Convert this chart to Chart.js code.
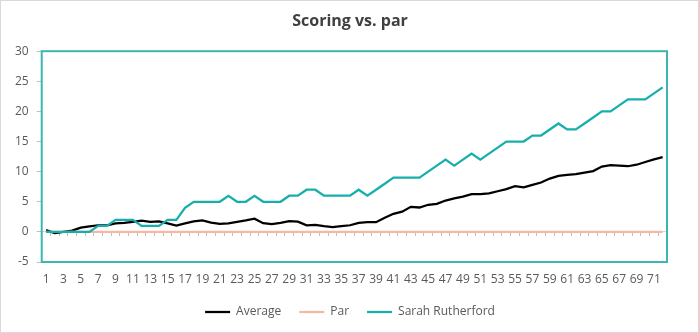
<!DOCTYPE html>
<html>
<head>
<meta charset="utf-8">
<script src="https://cdn.jsdelivr.net/npm/chart.js@4"></script>
<style>
  body { margin: 0; background: #fff; }
  canvas { display: block; }
</style>
</head>
<body>
<canvas id="scoreChart" width="699" height="333"></canvas>
<script>
// holes 1..72
const holes = [
  1, 2, 3, 4, 5, 6, 7, 8, 9, 10, 11, 12, 13, 14, 15, 16, 17, 18,
  19, 20, 21, 22, 23, 24, 25, 26, 27, 28, 29, 30, 31, 32, 33, 34, 35, 36,
  37, 38, 39, 40, 41, 42, 43, 44, 45, 46, 47, 48, 49, 50, 51, 52, 53, 54,
  55, 56, 57, 58, 59, 60, 61, 62, 63, 64, 65, 66, 67, 68, 69, 70, 71, 72
];

const average = [
  0.3, -0.2, 0.0, 0.2, 0.7, 0.9, 1.1, 1.1, 1.4, 1.5, 1.65, 1.85, 1.65, 1.75, 1.4, 1.05, 1.4, 1.75,
  1.9, 1.55, 1.35, 1.4, 1.65, 1.9, 2.2, 1.45, 1.3, 1.5, 1.8, 1.7, 1.1, 1.15, 0.95, 0.8, 0.95, 1.1,
  1.5, 1.6, 1.6, 2.35, 3.0, 3.35, 4.15, 4.05, 4.5, 4.65, 5.2, 5.55, 5.85, 6.25, 6.25, 6.4, 6.75, 7.1,
  7.6, 7.4, 7.8, 8.2, 8.85, 9.3, 9.45, 9.6, 9.85, 10.1, 10.85, 11.1, 11.0, 10.9, 11.15, 11.6, 12.05, 12.4
];

const par = [
  0, 0, 0, 0, 0, 0, 0, 0, 0, 0, 0, 0, 0, 0, 0, 0, 0, 0,
  0, 0, 0, 0, 0, 0, 0, 0, 0, 0, 0, 0, 0, 0, 0, 0, 0, 0,
  0, 0, 0, 0, 0, 0, 0, 0, 0, 0, 0, 0, 0, 0, 0, 0, 0, 0,
  0, 0, 0, 0, 0, 0, 0, 0, 0, 0, 0, 0, 0, 0, 0, 0, 0, 0
];

const sarah = [
  0, 0, 0, 0, 0, 0, 1, 1, 2, 2, 2, 1, 1, 1, 2, 2, 4, 5,
  5, 5, 5, 6, 5, 5, 6, 5, 5, 5, 6, 6, 7, 7, 6, 6, 6, 6,
  7, 6, 7, 8, 9, 9, 9, 9, 10, 11, 12, 11, 12, 13, 12, 13, 14, 15,
  15, 15, 16, 16, 17, 18, 17, 17, 18, 19, 20, 20, 21, 22, 22, 22, 23, 24
];

const yMin = -5;
const yMax = 30;
const yStep = 5;

const textColor = '#595959';
const tealColor = '#17AFAB';
const fontFamily = '"Open Sans", "Noto Sans", sans-serif';

// white background, thin outer frame and teal box around the plot area
const frame = {
  id: 'frame',
  beforeDraw(chart) {
    const c = chart.ctx;
    c.save();
    c.fillStyle = '#fff';
    c.fillRect(0, 0, chart.width, chart.height);
    c.strokeStyle = '#D9D9D9';
    c.lineWidth = 1;
    c.strokeRect(0.5, 0.5, chart.width - 1, chart.height - 1);
    c.restore();
  },
  afterDraw(chart) {
    const a = chart.chartArea;
    const c = chart.ctx;
    c.save();
    c.strokeStyle = '#3DB6B2';
    c.lineWidth = 2;
    c.strokeRect(a.left, a.top, a.right - a.left, a.bottom - a.top);
    c.restore();
  }
};

new Chart(document.getElementById('scoreChart'), {
  type: 'line',
  data: {
    labels: holes,
    datasets: [
      {
        label: 'Average',
        data: average,
        borderColor: '#000000',
        backgroundColor: '#000000',
        borderWidth: 2.25,
        pointRadius: 0,
        order: 3
      },
      {
        label: 'Par',
        data: par,
        borderColor: '#F7B8A3',
        backgroundColor: '#F7B8A3',
        borderWidth: 2.25,
        pointRadius: 0,
        order: 2
      },
      {
        label: 'Sarah Rutherford',
        data: sarah,
        borderColor: tealColor,
        backgroundColor: tealColor,
        borderWidth: 2.25,
        pointRadius: 0,
        order: 1
      }
    ]
  },
  options: {
    responsive: false,
    animation: false,
    devicePixelRatio: 1,
    layout: { padding: { left: 7, right: 6, top: 0, bottom: 5 } },
    plugins: {
      title: {
        display: true,
        text: 'Scoring vs. par',
        color: '#404040',
        font: { family: fontFamily, size: 16, weight: 'bold' },
        padding: { top: 12, bottom: 20 }
      },
      legend: {
        position: 'bottom',
        maxHeight: 40,
        labels: {
          usePointStyle: true,
          pointStyle: 'line',
          pointStyleWidth: 25,
          color: textColor,
          font: { family: fontFamily, size: 12 },
          padding: 18,
          sort: (a, b) => a.datasetIndex - b.datasetIndex
        }
      },
      tooltip: { enabled: false }
    },
    scales: {
      // axis line with tick marks sitting on zero
      x: {
        type: 'category',
        position: { y: 0 },
        offset: true,
        grid: {
          offset: true,
          drawOnChartArea: false,
          drawTicks: true,
          tickLength: 4,
          color: '#BFBFBF'
        },
        border: { display: true, color: '#D9D9D9' },
        ticks: { display: false, autoSkip: false }
      },
      // hole labels along the bottom
      xLabels: {
        type: 'category',
        position: 'bottom',
        offset: true,
        grid: { display: false, drawTicks: false },
        border: { display: false },
        ticks: {
          autoSkip: false,
          maxRotation: 0,
          padding: 10,
          color: textColor,
          font: { family: fontFamily, size: 12 },
          callback: (v, i) => (i % 2 === 0 ? holes[i] : '')
        },
        afterFit: (scale) => { scale.height = 26; }
      },
      y: {
        min: yMin,
        max: yMax,
        ticks: {
          stepSize: yStep,
          padding: 8,
          color: textColor,
          font: { family: fontFamily, size: 12 }
        },
        grid: {
          drawOnChartArea: false,
          drawTicks: true,
          tickLength: 5,
          color: '#BFBFBF'
        },
        border: { display: false }
      },
      // empty spacer on the right so the legend and title stay centred
      ySpace: {
        position: 'right',
        grid: { display: false, drawTicks: false },
        border: { display: false },
        ticks: { display: false },
        afterFit: (scale) => { scale.width = 26; }
      }
    }
  },
  plugins: [frame]
});
</script>
</body>
</html>
